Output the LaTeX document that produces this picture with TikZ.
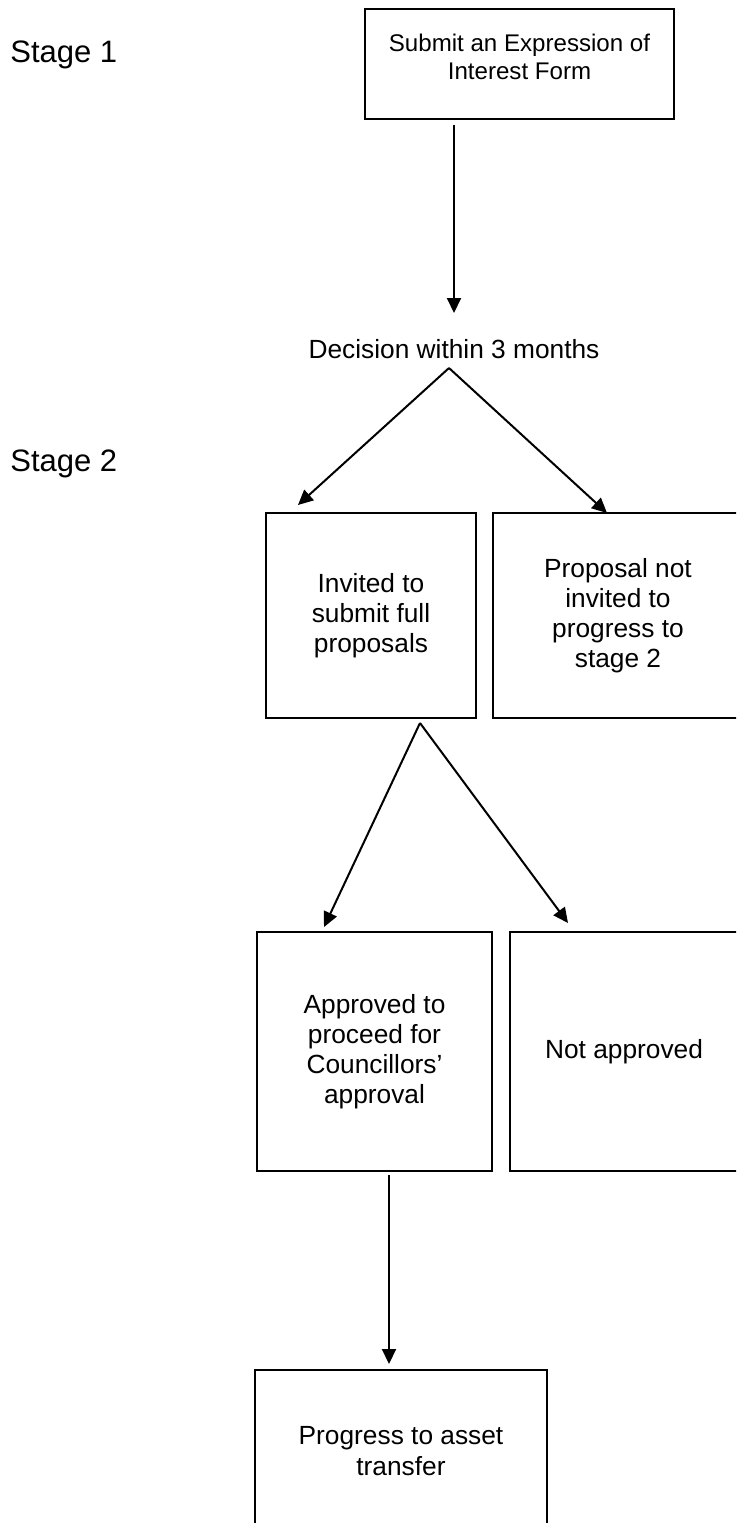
\documentclass[tikz,border=0pt]{standalone}
\usepackage{fontspec}
\setmainfont{Liberation Sans}
\usetikzlibrary{arrows.meta}
\begin{document}
\begin{tikzpicture}[
		x=0.5pt,
		y=-0.5pt,
		box/.style={
				draw,
				line width=1pt,
				align=center,
				inner sep=0pt,
				font=\fontsize{13.15}{15.1}\selectfont
			},
		stagelabel/.style={
				anchor=base west,
				inner sep=0pt,
				font=\fontsize{15.5}{18}\selectfont
			},
		arr/.style={
				line width=1pt,
				-{Triangle[length=7.5pt,width=7pt]}
			}
	]
	\clip (0,0) rectangle (736,1523);
	\useasboundingbox (0,0) rectangle (736,1523);
	\node[stagelabel] (stage1) at (10,62) {Stage 1};
	\node[stagelabel] (stage2) at (10,471) {Stage 2};
	\node[box, minimum width=154.5pt, minimum height=55pt, text depth=7pt,
		font=\fontsize{12.05}{13.8}\selectfont] (eoi) at (519.5,64) {Submit an Expression of\\Interest Form};
	\node[anchor=base, inner sep=0pt, font=\fontsize{13.15}{15.1}\selectfont] (decision) at (454,358) {Decision within 3 months};
	\node[box, minimum width=105pt, minimum height=102.5pt] (invited) at (371,615.5) {Invited to\\submit full\\proposals};
	\node[box, minimum width=125pt, minimum height=102.5pt] (notinvited) at (618,615.5) {Proposal not\\invited to\\progress to\\stage 2};
	\node[box, minimum width=117.5pt, minimum height=119.5pt] (approved) at (374.5,1051.5) {Approved to\\proceed for\\Councillors’\\approval};
	\node[box, minimum width=114pt, minimum height=119.5pt] (notapproved) at (624,1051.5) {Not approved};
	\node[box, minimum width=146pt, minimum height=81pt] (transfer) at (401,1451) {Progress to asset\\transfer};
	\coordinate (eoiout) at (454,125);
	\coordinate (decin) at (454,313);
	\coordinate (fork1) at (449,368);
	\coordinate (invin) at (298,505);
	\coordinate (notinvin) at (607,513);
	\coordinate (fork2) at (420,723);
	\coordinate (apprin) at (324,927);
	\coordinate (notapprin) at (568,923);
	\coordinate (approut) at (389,1175);
	\coordinate (transin) at (389,1364);
	\draw[arr] (eoiout) -- (decin);
	\draw[arr] (fork1) -- (invin);
	\draw[arr] (fork1) -- (notinvin);
	\draw[arr] (fork2) -- (apprin);
	\draw[arr] (fork2) -- (notapprin);
	\draw[arr] (approut) -- (transin);
\end{tikzpicture}
\end{document}
